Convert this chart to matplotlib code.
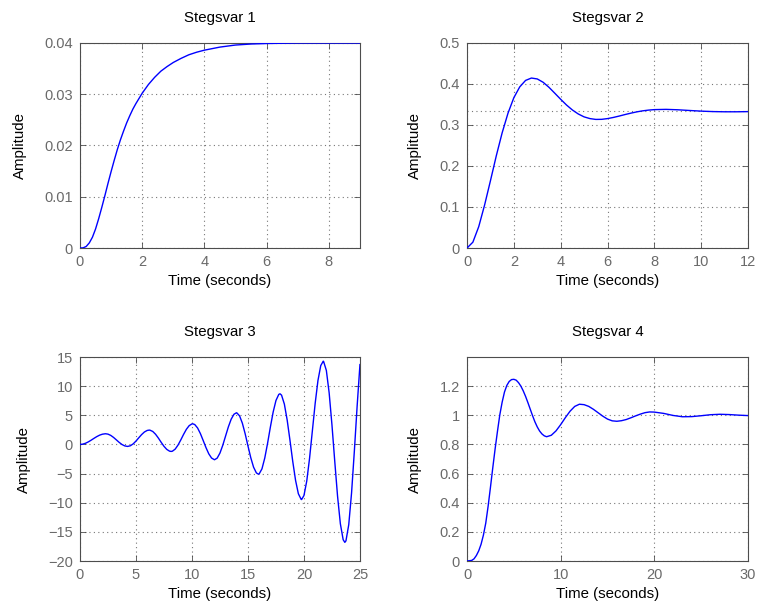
import matplotlib
matplotlib.use('Agg')
import matplotlib.pyplot as plt
from matplotlib.ticker import FuncFormatter

plt.rcParams['font.family'] = ['Liberation Sans', 'DejaVu Sans']

# step response 1
t1 = [0.0, 0.1, 0.2, 0.3, 0.4, 0.5, 0.6, 0.7, 0.8, 0.9, 1.0, 1.1, 1.2, 1.3, 1.4,
      1.5, 1.6, 1.7, 1.8, 1.9, 2.0, 2.2, 2.4, 2.6, 2.8, 3.0, 3.25, 3.5, 3.75, 4.0,
      4.5, 5.0, 5.5, 6.0, 7.0, 8.0, 9.0]
y1 = [0.0, 0.00003, 0.0003, 0.0010, 0.0021, 0.0037, 0.0057, 0.0079, 0.0102,
      0.0126, 0.0149, 0.0171, 0.0192, 0.0211, 0.0228, 0.0244, 0.0258, 0.0271,
      0.0282, 0.0292, 0.0302, 0.0319, 0.0333, 0.0345, 0.0354, 0.0362, 0.0370,
      0.0377, 0.0382, 0.0386, 0.0392, 0.0396, 0.0398, 0.0399, 0.04, 0.04, 0.04]

# step response 2
t2 = [0.0, 0.25, 0.5, 0.75, 1.0, 1.25, 1.5, 1.75, 2.0, 2.25, 2.5, 2.75, 3.0, 3.25,
      3.5, 3.75, 4.0, 4.25, 4.5, 4.75, 5.0, 5.25, 5.5, 5.75, 6.0, 6.25, 6.5, 6.75,
      7.0, 7.25, 7.5, 7.75, 8.0, 8.5, 9.0, 9.5, 10.0, 10.5, 11.0, 11.5, 12.0]
y2 = [0.0, 0.0142, 0.052, 0.1047, 0.164, 0.2249, 0.2809, 0.3288, 0.3666, 0.3928,
      0.4087, 0.4145, 0.4123, 0.4042, 0.3919, 0.3774, 0.3627, 0.3487, 0.3366,
      0.3269, 0.3198, 0.3156, 0.3136, 0.3138, 0.3156, 0.3184, 0.3218, 0.3255,
      0.3289, 0.3320, 0.3345, 0.3363, 0.3375, 0.3381, 0.3371, 0.3354, 0.3338,
      0.3327, 0.3322, 0.3322, 0.3326]
final2 = 0.3333

# step response 3 (unstable)
t3 = [0.0, 0.25, 0.5, 0.75, 1.0, 1.25, 1.5, 1.75, 2.0, 2.25, 2.29, 2.5, 2.75, 3.0,
      3.25, 3.5, 3.75, 4.0, 4.25, 4.5, 4.75, 5.0, 5.25, 5.5, 5.75, 6.0, 6.18, 6.25,
      6.5, 6.75, 7.0, 7.25, 7.5, 7.75, 8.0, 8.14, 8.25, 8.5, 8.75, 9.0, 9.25, 9.5,
      9.75, 10.0, 10.07, 10.25, 10.5, 10.75, 11.0, 11.25, 11.5, 11.75, 12.0, 12.02,
      12.25, 12.5, 12.75, 13.0, 13.25, 13.5, 13.75, 13.97, 14.0, 14.25, 14.5, 14.75,
      15.0, 15.25, 15.5, 15.75, 15.93, 16.0, 16.25, 16.5, 16.75, 17.0, 17.25, 17.5,
      17.75, 17.86, 18.0, 18.25, 18.5, 18.75, 19.0, 19.25, 19.5, 19.75, 19.79, 20.0,
      20.25, 20.5, 20.75, 21.0, 21.25, 21.5, 21.72, 21.75, 22.0, 22.25, 22.5, 22.75,
      23.0, 23.25, 23.5, 23.65, 23.75, 24.0, 24.25, 24.5, 24.75, 25.0]
y3 = [0.0, 0.053, 0.207, 0.443, 0.734, 1.047, 1.343, 1.591, 1.757, 1.829, 1.83,
      1.769, 1.548, 1.200, 0.780, 0.354, -0.010, -0.253, -0.34, -0.226, 0.099,
      0.579, 1.140, 1.686, 2.131, 2.400, 2.46, 2.448, 2.224, 1.747, 1.094, 0.367,
      -0.319, -0.852, -1.154, -1.2, -1.162, -0.805, -0.123, 0.767, 1.724, 2.594,
      3.224, 3.525, 3.54, 3.411, 2.830, 1.871, 0.683, -0.539, -1.607, -2.334,
      -2.618, -2.62, -2.347, -1.475, -0.146, 1.438, 3.013, 4.330, 5.181, 5.43,
      5.424, 4.909, 3.641, 1.826, -0.257, -2.270, -3.899, -4.883, -5.1, -5.055,
      -4.186, -2.333, 0.182, 2.968, 5.562, 7.539, 8.580, 8.69, 8.455, 6.923, 4.199,
      0.726, -2.929, -6.158, -8.457, -9.431, -9.45, -8.764, -6.276, -2.375, 2.318,
      7.022, 10.971, 13.529, 14.28, 14.261, 12.693, 8.847, 3.349, -2.903, -8.879,
      -13.607, -16.342, -16.8, -16.546, -13.764, -8.333, -1.151, 6.622, 13.7]

# step response 4
t4 = [0.0, 0.5, 0.75, 1.0, 1.25, 1.5, 1.75, 2.0, 2.25, 2.5, 2.75, 3.0, 3.25, 3.5,
      3.75, 4.0, 4.25, 4.5, 4.75, 5.0, 5.25, 5.5, 5.75, 6.0, 6.25, 6.5, 6.75, 7.0,
      7.25, 7.5, 7.75, 8.0, 8.25, 8.5, 9.0, 9.5, 10.0, 10.5, 11.0, 11.5, 12.0, 12.5,
      13.0, 13.5, 14.0, 14.5, 15.0, 15.5, 16.0, 16.5, 17.0, 17.5, 18.0, 18.5, 19.0,
      19.5, 20.0, 21.0, 22.0, 23.0, 24.0, 25.0, 26.0, 27.0, 28.0, 29.0, 30.0]
y4 = [0.0, 0.004, 0.015, 0.038, 0.07, 0.115, 0.178, 0.26, 0.375, 0.505, 0.64,
      0.77, 0.89, 1.003, 1.09, 1.16, 1.205, 1.232, 1.245, 1.247, 1.241, 1.224,
      1.2, 1.168, 1.13, 1.087, 1.042, 0.997, 0.955, 0.92, 0.892, 0.872, 0.859,
      0.853, 0.863, 0.893, 0.936, 0.984, 1.028, 1.061, 1.076, 1.073, 1.061, 1.041,
      1.0175, 0.994, 0.974, 0.962, 0.959, 0.963, 0.971, 0.983, 0.996, 1.008, 1.018,
      1.023, 1.022, 1.013, 0.999, 0.990, 0.991, 0.997, 1.004, 1.007, 1.005, 1.001,
      0.998]

titles = ['Stegsvar 1', 'Stegsvar 2', 'Stegsvar 3', 'Stegsvar 4']
xlims = [(0, 9), (0, 12), (0, 25), (0, 30)]
ylims = [(0, 0.04), (0, 0.5), (-20, 15), (0, 1.4)]
xticks = [[0, 2, 4, 6, 8], [0, 2, 4, 6, 8, 10, 12], [0, 5, 10, 15, 20, 25], [0, 10, 20, 30]]
yticks = [[0, 0.01, 0.02, 0.03, 0.04], [0, 0.1, 0.2, 0.3, 0.4, 0.5],
          [-20, -15, -10, -5, 0, 5, 10, 15], [0, 0.2, 0.4, 0.6, 0.8, 1.0, 1.2]]

positions = [[0.1051, 0.5921, 0.3679, 0.3372],
             [0.6137, 0.5921, 0.3692, 0.3372],
             [0.1051, 0.0773, 0.3679, 0.3355],
             [0.6137, 0.0773, 0.3692, 0.3355]]

grey = '#6a6a6a'
fmt = FuncFormatter(lambda v, p: ('%g' % round(v, 6)).replace('-', '\u2212'))

fig = plt.figure(figsize=(7.61, 6.08), dpi=100)
data = [(t1, y1), (t2, y2), (t3, y3), (t4, y4)]
for i in range(4):
    ax = fig.add_axes(positions[i])
    t, y = data[i]
    ax.plot(t, y, color='#0000ff', lw=1.0, zorder=3)
    if i == 1:
        ax.axhline(final2, color='#777777', lw=0.8, ls=(0, (1, 3)), zorder=2)
    ax.set_xlim(xlims[i])
    ax.set_ylim(ylims[i])
    ax.set_xticks(xticks[i])
    ax.set_yticks(yticks[i])
    ax.xaxis.set_major_formatter(fmt)
    ax.yaxis.set_major_formatter(fmt)
    ax.grid(True, color='#777777', lw=0.8, ls=(0, (1, 3)))
    ax.tick_params(direction='in', top=True, right=True, length=4, width=0.6,
                   color='#4d4d4d', labelcolor=grey, labelsize=10.5, pad=5)
    for s in ax.spines.values():
        s.set_color('#4d4d4d')
        s.set_linewidth(0.8)
    ax.set_title(titles[i], fontsize=10.8, pad=15)
    ax.set_xlabel('Time (seconds)', fontsize=10.8, labelpad=3.5)
    ax.set_ylabel('Amplitude', fontsize=10.8, labelpad=12.5)

plt.savefig('out.png', dpi=100)
